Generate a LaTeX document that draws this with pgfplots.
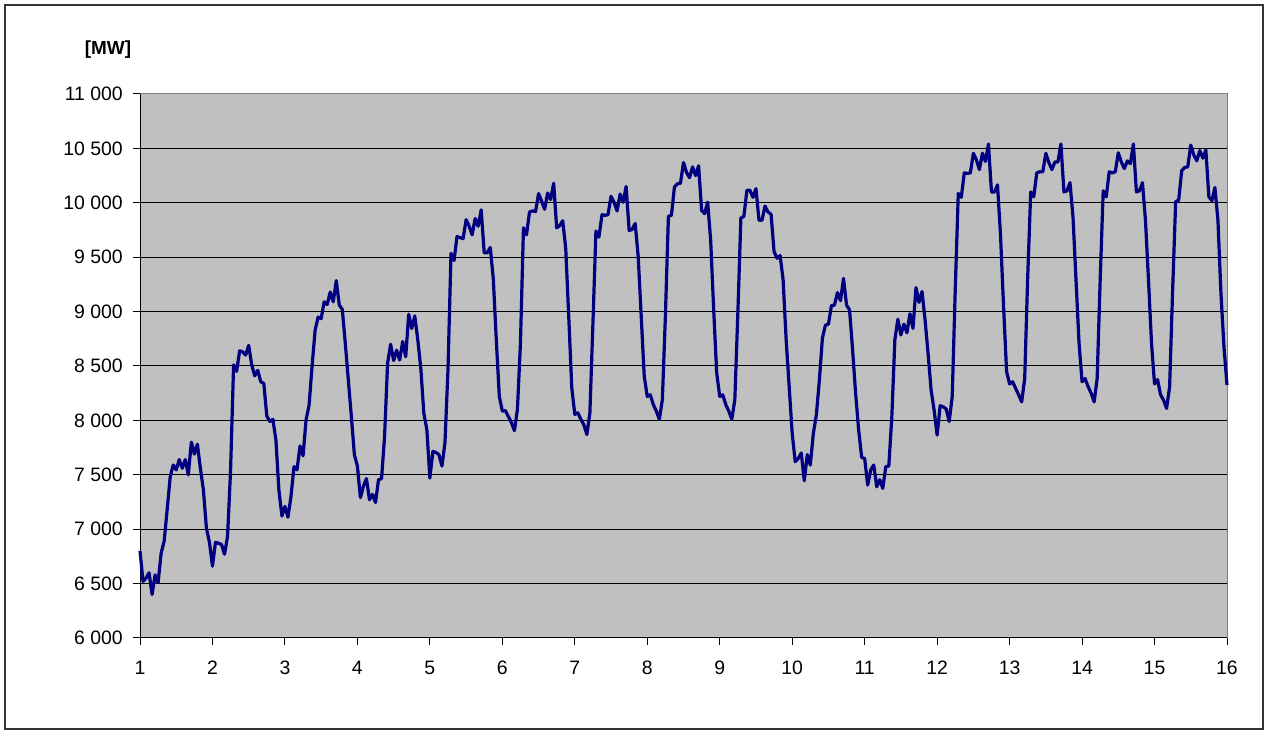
\documentclass[border=0pt]{standalone}
\usepackage{fontspec}
\setmainfont{Liberation Sans}
\usepackage{pgfplots}
\usepackage{pgfplotstable}
\pgfplotsset{compat=1.18}
\definecolor{plotbg}{RGB}{192,192,192}
\definecolor{navyline}{RGB}{0,0,128}
\newcommand\ts{\space}
\pgfplotstableread{
h y
0 6800
1 6520
2 6550
3 6600
4 6400
5 6580
6 6510
7 6780
8 6890
9 7180
10 7480
11 7590
12 7545
13 7640
14 7560
15 7640
16 7500
17 7800
18 7690
19 7780
20 7560
21 7360
22 7010
23 6880
24 6660
25 6880
26 6870
27 6860
28 6770
29 6935
30 7545
31 8510
32 8450
33 8640
34 8630
35 8600
36 8690
37 8510
38 8410
39 8460
40 8355
41 8340
42 8040
43 7990
44 8010
45 7825
46 7360
47 7120
48 7210
49 7110
50 7300
51 7575
52 7545
53 7765
54 7675
55 8005
56 8140
57 8505
58 8830
59 8950
60 8935
61 9090
62 9065
63 9180
64 9090
65 9285
66 9060
67 9020
68 8705
69 8370
70 8035
71 7685
72 7580
73 7290
74 7395
75 7465
76 7270
77 7320
78 7245
79 7455
80 7465
81 7855
82 8525
83 8700
84 8550
85 8645
86 8555
87 8725
88 8585
89 8975
90 8845
91 8960
92 8740
93 8480
94 8065
95 7915
96 7470
97 7715
98 7705
99 7685
100 7580
101 7795
102 8465
103 9535
104 9470
105 9690
106 9680
107 9670
108 9845
109 9785
110 9705
111 9855
112 9785
113 9935
114 9540
115 9540
116 9590
117 9305
118 8740
119 8220
120 8085
121 8090
122 8035
123 7980
124 7905
125 8100
126 8710
127 9770
128 9705
129 9915
130 9925
131 9920
132 10085
133 10015
134 9940
135 10090
136 10030
137 10180
138 9770
139 9790
140 9835
141 9580
142 8950
143 8300
144 8055
145 8070
146 8010
147 7960
148 7870
149 8070
150 8890
151 9740
152 9685
153 9890
154 9885
155 9890
156 10060
157 10005
158 9925
159 10080
160 10005
161 10150
162 9745
163 9755
164 9810
165 9505
166 8955
167 8405
168 8220
169 8235
170 8145
171 8085
172 8010
173 8190
174 8955
175 9875
176 9885
177 10145
178 10175
179 10180
180 10370
181 10280
182 10230
183 10330
184 10250
185 10340
186 9930
187 9900
188 10005
189 9655
190 9015
191 8435
192 8220
193 8235
194 8145
195 8085
196 8010
197 8190
198 8985
199 9860
200 9875
201 10115
202 10115
203 10050
204 10130
205 9840
206 9840
207 9970
208 9915
209 9895
210 9550
211 9490
212 9515
213 9290
214 8740
215 8310
216 7880
217 7620
218 7650
219 7700
220 7445
221 7685
222 7590
223 7880
224 8050
225 8370
226 8755
227 8875
228 8885
229 9055
230 9060
231 9175
232 9100
233 9305
234 9060
235 9015
236 8650
237 8250
238 7915
239 7660
240 7650
241 7405
242 7545
243 7590
244 7390
245 7455
246 7375
247 7575
248 7580
249 8035
250 8740
251 8930
252 8785
253 8885
254 8805
255 8980
256 8845
257 9220
258 9085
259 9185
260 8925
261 8615
262 8280
263 8095
264 7865
265 8135
266 8125
267 8105
268 7990
269 8220
270 9200
271 10085
272 10050
273 10275
274 10270
275 10275
276 10455
277 10395
278 10305
279 10455
280 10380
281 10540
282 10100
283 10100
284 10165
285 9700
286 9050
287 8450
288 8335
289 8355
290 8295
291 8235
292 8170
293 8385
294 9320
295 10100
296 10055
297 10275
298 10285
299 10285
300 10455
301 10370
302 10305
303 10375
304 10375
305 10540
306 10100
307 10110
308 10185
309 9870
310 9290
311 8710
312 8355
313 8385
314 8310
315 8250
316 8170
317 8385
318 9290
319 10110
320 10055
321 10285
322 10275
323 10285
324 10460
325 10375
326 10315
327 10385
328 10360
329 10540
330 10100
331 10110
332 10185
333 9840
334 9290
335 8710
336 8335
337 8375
338 8235
339 8185
340 8110
341 8310
342 9200
343 10010
344 10025
345 10295
346 10325
347 10330
348 10530
349 10440
350 10385
351 10480
352 10410
353 10485
354 10055
355 10020
356 10140
357 9840
358 9165
359 8675
360 8325
}\loadtable
\begin{document}
\begin{tikzpicture}[x=1bp,y=1bp]
\useasboundingbox (0,0) rectangle (1265,731);
\fill[white] (0,0) rectangle (1265,731);
\draw[line width=1.2bp, black!80] (5,2) rectangle (1263,726);
\node[font=\fontsize{19}{22}\selectfont\bfseries] at (108,681) {[MW]};
\begin{axis}[
  at={(140bp,93bp)}, anchor=south west,
  width=1087bp, height=544bp, scale only axis,
  xmin=0, xmax=360, ymin=6000, ymax=11000,
  scaled y ticks=false, scaled x ticks=false,
  xtick={0,24,...,360},
  xticklabels={1,2,3,4,5,6,7,8,9,10,11,12,13,14,15,16},
  ytick={6000,6500,...,11000},
  yticklabels={6\ts 000,6\ts 500,7\ts 000,7\ts 500,8\ts 000,8\ts 500,9\ts 000,9\ts 500,10\ts 000,10\ts 500,11\ts 000},
  tick pos=left, tick align=outside, major tick length=7bp,
  tick style={black, line width=1bp},
  ticklabel style={font=\fontsize{19.5}{22}\selectfont, text=black},
  yticklabel style={anchor=east, inner sep=0pt, xshift=-10bp},
  xticklabel style={anchor=north, inner sep=0pt, yshift=-16bp},
  ymajorgrids, grid style={black, line width=1bp},
  axis background/.style={fill=plotbg},
  axis line style={draw=none},
  clip=false,
]
\draw[black!50, line width=1bp] (rel axis cs:0,1) -- (rel axis cs:1,1) -- (rel axis cs:1,0);
\draw[black, line width=1bp] (rel axis cs:0,1) -- (rel axis cs:0,0) -- (rel axis cs:1,0);
\addplot[navyline, line width=3.2bp, line join=round, no marks] table[x=h, y=y] {\loadtable};
\end{axis}
\end{tikzpicture}
\end{document}
